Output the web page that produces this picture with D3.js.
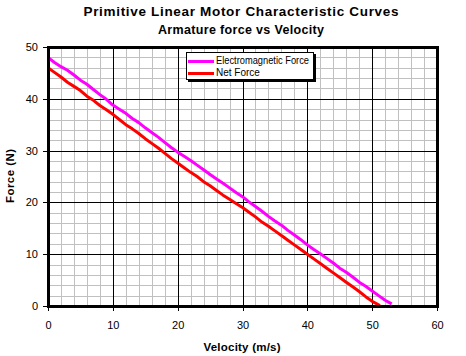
<!DOCTYPE html>
<html><head><meta charset="utf-8">
<script src="https://cdn.jsdelivr.net/npm/d3@7"></script>
<style>body{margin:0;background:#fff}svg{display:block;font-family:"Liberation Sans",Arial,sans-serif}</style>
</head><body>
<script>
const titleText = "Primitive Linear Motor Characteristic Curves";
const subtitleText = "Armature force vs Velocity";
const xTitle = "Velocity (m/s)";
const yTitle = "Force (N)";
const xTicks = [0,10,20,30,40,50,60];
const yTicks = [0,10,20,30,40,50];
const seriesNames = ["Electromagnetic Force","Net Force"];
const seriesColors = ["#ff00ff","#ff0000"];
const emVelocity = [0,1,2,3,4,5,6,7,8,9,10,11,12,13,14,15,16,17,18,19,20,21,22,23,24,25,26,27,28,29,30,31,32,33,34,35,36,37,38,39,40,41,42,43,44,45,46,47,48,49,50,51,52,53];
const emForce = [48,47.0,46.2,45.5,44.6,43.6,42.8,41.8,40.8,39.9,38.8,38.0,37.2,36.2,35.4,34.4,33.5,32.6,31.6,30.6,29.7,28.9,28.1,27.2,26.3,25.4,24.5,23.7,22.8,21.9,21.1,20.1,19.2,18.3,17.3,16.4,15.6,14.6,13.7,12.8,11.8,10.9,10.1,9.2,8.3,7.3,6.5,5.6,4.6,3.8,2.9,2.0,1.1,0.4];
const netVelocity = [0,1,2,3,4,5,6,7,8,9,10,11,12,13,14,15,16,17,18,19,20,21,22,23,24,25,26,27,28,29,30,31,32,33,34,35,36,37,38,39,40,41,42,43,44,45,46,47,48,49,50,51.2];
const netForce = [46.0,45.1,44.2,43.2,42.4,41.6,40.5,39.7,38.7,37.9,37.0,36.0,35.0,34.2,33.3,32.3,31.4,30.5,29.5,28.5,27.6,26.7,25.8,25.0,24.0,23.2,22.3,21.4,20.6,19.8,19.0,18.1,17.2,16.2,15.4,14.5,13.6,12.7,11.8,10.9,10.0,9.1,8.2,7.3,6.4,5.5,4.6,3.7,2.8,1.8,0.9,0.1];

const W=466,H=356;
const L=48,R=437,T=47,B=306;
const svg=d3.select("body").append("svg").attr("width",W).attr("height",H);
const x=d3.scaleLinear().domain([0,60]).range([L,R]);
const y=d3.scaleLinear().domain([0,50]).range([B,T]);

// minor grid
const minorX=d3.range(2,60,2).filter(v=>v%10!==0);
const minorY=d3.range(2,50,2).filter(v=>v%10!==0);
const g=svg.append("g").attr("shape-rendering","crispEdges");
g.selectAll(".mx").data(minorX).join("line").attr("x1",d=>Math.round(x(d))+0.5).attr("x2",d=>Math.round(x(d))+0.5).attr("y1",T).attr("y2",B).attr("stroke","#c0c0c0");
g.selectAll(".my").data(minorY).join("line").attr("y1",d=>Math.round(y(d))+0.5).attr("y2",d=>Math.round(y(d))+0.5).attr("x1",L).attr("x2",R).attr("stroke","#c0c0c0");
// major grid
g.selectAll(".Mx").data(xTicks.slice(1,-1)).join("line").attr("x1",d=>Math.round(x(d))+0.5).attr("x2",d=>Math.round(x(d))+0.5).attr("y1",T).attr("y2",B).attr("stroke","#000");
g.selectAll(".My").data(yTicks.slice(1,-1)).join("line").attr("y1",d=>Math.round(y(d))+0.5).attr("y2",d=>Math.round(y(d))+0.5).attr("x1",L).attr("x2",R).attr("stroke","#000");

// series
const line=d3.line().x(d=>x(d[0])).y(d=>y(d[1]));
const series=[d3.zip(emVelocity,emForce), d3.zip(netVelocity,netForce)];
series.forEach((s,i)=>{
  svg.append("path").datum(s).attr("d",line).attr("fill","none").attr("stroke",seriesColors[i]).attr("stroke-width",3).attr("stroke-linejoin","round");
});

// frame
svg.append("rect").attr("x",L).attr("y",T).attr("width",R-L).attr("height",B-T).attr("fill","none").attr("stroke","#000").attr("stroke-width",3).attr("shape-rendering","crispEdges");

// axes
const xAxis=d3.axisBottom(x).tickValues(xTicks).tickSize(5).tickPadding(10);
const yAxis=d3.axisLeft(y).tickValues(yTicks).tickSize(5).tickPadding(5);
const gx=svg.append("g").attr("transform",`translate(0,${B})`).call(xAxis);
const gy=svg.append("g").attr("transform",`translate(${L},0)`).call(yAxis);
[gx,gy].forEach(a=>{a.select(".domain").remove();a.selectAll("text").attr("font-size",11).attr("fill","#000").attr("font-family","Liberation Sans, Arial, sans-serif");a.selectAll("line").attr("stroke","#000").attr("shape-rendering","crispEdges");});

// titles
svg.append("text").attr("x",241).attr("y",15.5).attr("text-anchor","middle").attr("font-size",13.5).attr("font-weight","bold").attr("textLength",315).attr("lengthAdjust","spacing").text(titleText);
svg.append("text").attr("x",241).attr("y",33.5).attr("text-anchor","middle").attr("font-size",12.5).attr("font-weight","bold").attr("textLength",166).attr("lengthAdjust","spacing").text(subtitleText);
svg.append("text").attr("x",242).attr("y",351).attr("text-anchor","middle").attr("font-size",11.5).attr("font-weight","bold").attr("textLength",77).attr("lengthAdjust","spacing").text(xTitle);
svg.append("text").attr("transform","translate(14,176) rotate(-90)").attr("text-anchor","middle").attr("font-size",11.5).attr("font-weight","bold").attr("textLength",54).attr("lengthAdjust","spacing").text(yTitle);

// legend
const lg=svg.append("g").attr("shape-rendering","crispEdges");
lg.append("rect").attr("x",188).attr("y",54).attr("width",128).attr("height",28).attr("fill","#000");
lg.append("rect").attr("x",186.5).attr("y",52.5).attr("width",127).attr("height",27).attr("fill","#fff").attr("stroke","#000");
seriesNames.forEach((n,i)=>{
  const yy=61+i*12.5;
  lg.append("line").attr("x1",188).attr("x2",214).attr("y1",yy).attr("y2",yy).attr("stroke",seriesColors[i]).attr("stroke-width",3);
  const t=svg.append("text").attr("x",216).attr("y",yy+2.5).attr("font-size",10).text(n);
  if(i===0) t.attr("textLength",93).attr("lengthAdjust","spacingAndGlyphs");
});
</script>
</body></html>
